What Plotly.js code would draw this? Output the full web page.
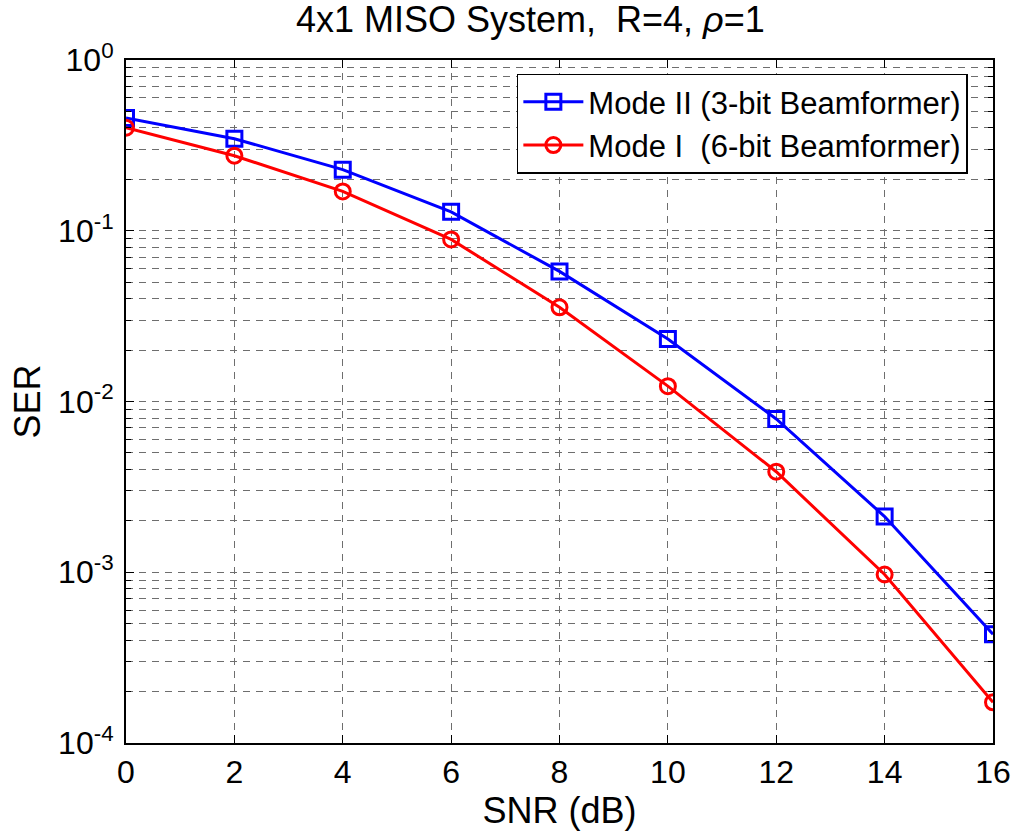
<!DOCTYPE html>
<html>
<head>
<meta charset="utf-8">
<script src="https://cdn.plot.ly/plotly-3.0.1.min.js"></script>
<style>html,body{margin:0;padding:0;background:#fff;}#chart{width:1016px;height:832px;}</style>
</head>
<body>
<div id="chart"></div>
<script>
const snr = [0, 2, 4, 6, 8, 10, 12, 14, 16];
const serModeII = [0.458, 0.346, 0.228, 0.129, 0.0578, 0.0232, 0.0079, 0.00212, 0.000433];
const serModeI = [0.401, 0.275, 0.170, 0.089, 0.0356, 0.0123, 0.00388, 0.00097, 0.000173];
const nameModeII = "Mode II (3-bit Beamformer)";
const nameModeI = "Mode I\u00a0\u00a0(6-bit Beamformer)";
const xTicks = [0, 2, 4, 6, 8, 10, 12, 14, 16];
const yTickVals = [1, 0.1, 0.01, 0.001, 0.0001];
const yTickText = ["10<sup>0</sup>", "10<sup>-1</sup>", "10<sup>-2</sup>", "10<sup>-3</sup>", "10<sup>-4</sup>"];

const font = "Liberation Sans, Arial, sans-serif";
const gridColor = "#6e6e6e";

const traces = [
  {x: snr, y: serModeII, name: nameModeII, type: "scatter", mode: "lines+markers",
   line: {color: "#0000ff", width: 3},
   marker: {symbol: "square-open", size: 15, color: "#0000ff", line: {width: 3, color: "#0000ff"}}},
  {x: snr, y: serModeI, name: nameModeI, type: "scatter", mode: "lines+markers",
   line: {color: "#ff0000", width: 3},
   marker: {symbol: "circle-open", size: 15, color: "#ff0000", line: {width: 3, color: "#ff0000"}}}
];

const layout = {
  width: 1016, height: 832,
  margin: {l: 126, r: 23, t: 60, b: 89},
  paper_bgcolor: "#fff", plot_bgcolor: "#fff",
  font: {family: font, size: 32, color: "#000"},
  title: {text: "4x1 MISO System,\u00a0\u00a0R=4, <i>ρ</i>=1", x: 0.522, xref: "container", xanchor: "center",
          y: 0.992, yref: "container", yanchor: "top", font: {family: font, size: 36, color: "#000"}},
  xaxis: {
    range: [0, 16], tickvals: xTicks, ticktext: xTicks.map(String),
    ticks: "inside", ticklen: 8, tickwidth: 1, tickcolor: "#000",
    showline: true, linecolor: "#000", linewidth: 2, mirror: "ticks",
    showgrid: true, gridcolor: gridColor, gridwidth: 1, griddash: "7px,6px",
    zeroline: false, tickfont: {family: font, size: 32, color: "#000"},
    ticklabelstandoff: 0,
    title: {text: "SNR (dB)", font: {family: font, size: 36, color: "#000"}, standoff: 0}
  },
  yaxis: {
    type: "log", range: [-4, 0], tickvals: yTickVals, ticktext: yTickText,
    ticks: "inside", ticklen: 8, tickwidth: 1, tickcolor: "#000",
    showline: true, linecolor: "#000", linewidth: 2, mirror: "ticks",
    showgrid: true, gridcolor: gridColor, gridwidth: 1, griddash: "7px,6px",
    zeroline: false, tickfont: {family: font, size: 32, color: "#000"},
    ticklabelstandoff: 4,
    minor: {dtick: "D1", ticks: "inside", ticklen: 5, tickcolor: "#000", showgrid: true,
            gridcolor: gridColor, gridwidth: 1, griddash: "7px,6px"},
    title: {text: "SER", font: {family: font, size: 36, color: "#000"}, standoff: 6}
  },
  legend: {x: 0.971, xanchor: "right", y: 0.98, yanchor: "top",
           bgcolor: "#fff", bordercolor: "#000", borderwidth: 1.5,
           font: {family: font, size: 31, color: "#000"}, tracegroupgap: 0, itemwidth: 60},
  showlegend: true
};

Plotly.newPlot("chart", traces, layout, {displayModeBar: false, staticPlot: true});
</script>
</body>
</html>
